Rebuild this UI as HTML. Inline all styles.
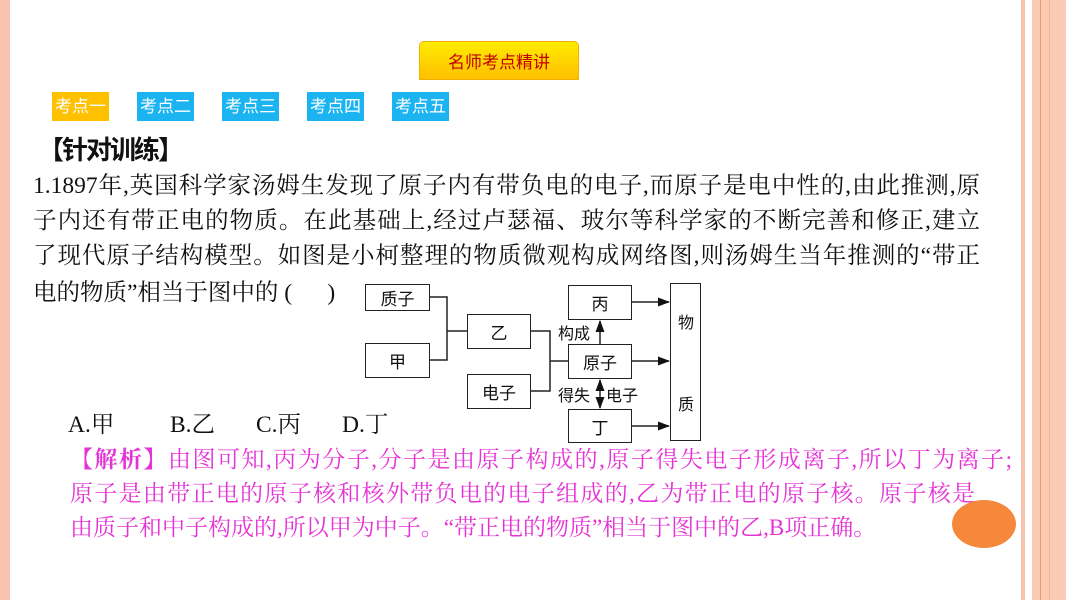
<!DOCTYPE html>
<html><head><meta charset="utf-8"><style>
body{margin:0;width:1066px;height:600px;position:relative;overflow:hidden;background:#fff;font-family:"Liberation Serif","Noto Serif CJK SC",serif;}
.a{position:absolute;}
.tab{position:absolute;top:92px;height:29px;width:57px;color:#fff;font:17px "Liberation Sans","Noto Sans CJK SC",sans-serif;line-height:29px;text-align:center;}
.ln{position:absolute;left:33px;width:947px;font-size:23.5px;line-height:30px;text-align:justify;text-align-last:justify;white-space:nowrap;color:#111;}
.mg{position:absolute;left:70px;font-size:23px;line-height:30px;color:#e534d6;white-space:nowrap;}
.bx{position:absolute;border:1.5px solid #222;box-sizing:border-box;font:17px "Noto Sans CJK SC",sans-serif;display:flex;align-items:center;justify-content:center;color:#111;background:#fff;}
.lb{position:absolute;font:16px "Noto Sans CJK SC",sans-serif;color:#111;}
</style></head><body>
<div class="a" style="left:0;top:0;width:10px;height:600px;background:#f9c3b0"></div>
<div class="a" style="left:1021px;top:0;width:4px;height:600px;background:#f9c3b0"></div>
<div class="a" style="left:1032px;top:0;width:34px;height:600px;background:#fbcab5"></div>
<div class="a" style="left:1040px;top:0;width:1px;height:600px;background:#ee9a70"></div>
<div class="a" style="left:1049px;top:0;width:1px;height:600px;background:#f3b496"></div>

<div class="a" style="left:419px;top:41px;width:160px;height:39px;border-radius:5px 5px 0 0;background:linear-gradient(#ffec00,#ffbf00);border:1px solid #f0b000;box-sizing:border-box;color:#c00000;font:17px 'Noto Sans CJK SC',sans-serif;line-height:37px;text-align:center;">名师考点精讲</div>
<div class="tab" style="left:52px;background:#ffc000">考点一</div>
<div class="tab" style="left:137px;background:#1cb4f0">考点二</div>
<div class="tab" style="left:222px;background:#1cb4f0">考点三</div>
<div class="tab" style="left:307px;background:#1cb4f0">考点四</div>
<div class="tab" style="left:392px;background:#1cb4f0">考点五</div>
<div class="a" style="left:38px;top:131px;font:bold 26px 'Noto Sans CJK SC',sans-serif;line-height:36px;color:#111;letter-spacing:-2px">【针对训练】</div>

<div class="ln" style="top:171px">1.1897年,英国科学家汤姆生发现了原子内有带负电的电子,而原子是电中性的,由此推测,原</div>
<div class="ln" style="top:206px">子内还有带正电的物质。在此基础上,经过卢瑟福、玻尔等科学家的不断完善和修正,建立</div>
<div class="ln" style="top:241px">了现代原子结构模型。如图是小柯整理的物质微观构成网络图,则汤姆生当年推测的“带正</div>
<div class="ln" style="top:278px;width:auto;text-align-last:auto">电的物质”相当于图中的 (&nbsp;&nbsp;&nbsp;&nbsp;&nbsp;&nbsp;)</div>
<div class="ln" style="top:410px;left:68px;width:auto;text-align-last:auto">A.甲</div>
<div class="ln" style="top:410px;left:170px;width:auto;text-align-last:auto">B.乙</div>
<div class="ln" style="top:410px;left:256px;width:auto;text-align-last:auto">C.丙</div>
<div class="ln" style="top:410px;left:342px;width:auto;text-align-last:auto">D.丁</div>

<svg class="a" style="left:0;top:0" width="1066" height="600">
<defs><marker id="ar" markerWidth="12" markerHeight="10" refX="11" refY="5" orient="auto-start-reverse" markerUnits="userSpaceOnUse"><path d="M0,0.5L12,5L0,9.5z" fill="#111"/></marker></defs>
<g stroke="#222" stroke-width="1.5" fill="none">
<path d="M430,297H447V360H430M447,331H467"/>
<path d="M531,331H550V391H531M550,361H568"/>
<path d="M632,302H669" marker-end="url(#ar)"/>
<path d="M632,361H669" marker-end="url(#ar)"/>
<path d="M632,426H669" marker-end="url(#ar)"/>
<path d="M600,344V321" marker-end="url(#ar)"/>
<path d="M600,380V408" marker-end="url(#ar)" marker-start="url(#ar)"/>
</g></svg>
<div class="bx" style="left:365px;top:284px;width:65px;height:27px">质子</div>
<div class="bx" style="left:365px;top:343px;width:65px;height:35px">甲</div>
<div class="bx" style="left:467px;top:314px;width:64px;height:35px">乙</div>
<div class="bx" style="left:467px;top:374px;width:64px;height:35px">电子</div>
<div class="bx" style="left:568px;top:285px;width:64px;height:35px">丙</div>
<div class="bx" style="left:568px;top:344px;width:64px;height:35px">原子</div>
<div class="bx" style="left:568px;top:409px;width:64px;height:34px">丁</div>
<div class="bx" style="left:670px;top:283px;width:31px;height:158px;display:block"></div>
<div class="lb" style="left:678px;top:309px">物</div>
<div class="lb" style="left:678px;top:391px">质</div>
<div class="lb" style="left:558px;top:320px">构成</div>
<div class="lb" style="left:558px;top:382px">得失</div>
<div class="lb" style="left:606px;top:382px">电子</div>

<div class="mg" style="top:445px;width:942px;text-align:justify;text-align-last:justify"><b>【解析】</b>由图可知,丙为分子,分子是由原子构成的,原子得失电子形成离子,所以丁为离子;</div>
<div class="mg" style="top:479px;width:905px;text-align:justify;text-align-last:justify">原子是由带正电的原子核和核外带负电的电子组成的,乙为带正电的原子核。原子核是</div>
<div class="mg" style="top:513px">由质子和中子构成的,所以甲为中子。“带正电的物质”相当于图中的乙,B项正确。</div>
<div class="a" style="left:952px;top:500px;width:64px;height:48px;border-radius:50%;background:#f5883a"></div>
</body></html>
